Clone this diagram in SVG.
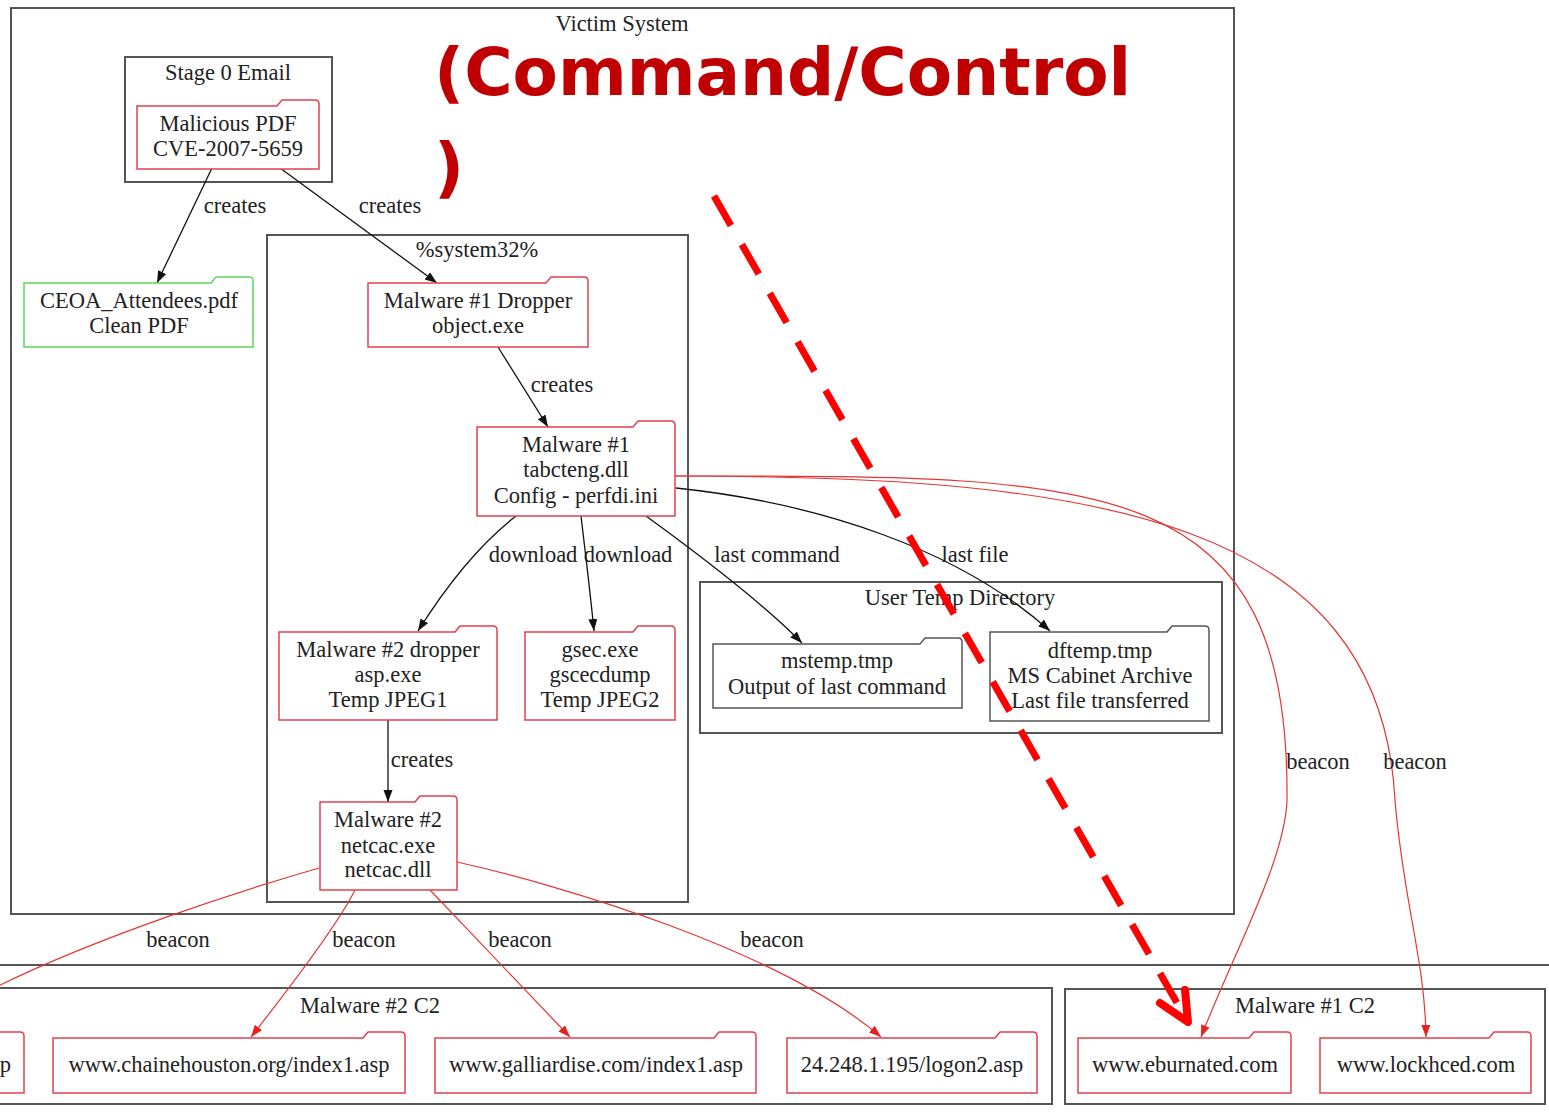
<svg xmlns="http://www.w3.org/2000/svg" width="1549" height="1112" viewBox="0 0 1549 1112">
<style>
text{font-family:"Liberation Serif","Times New Roman",serif;font-size:22.5px;fill:#222;text-anchor:middle}
.cl{fill:none;stroke:#555;stroke-width:2}
.fr{fill:#fff;stroke:#e2404c;stroke-width:1.5}
.fg{fill:#fff;stroke:#5cd65c;stroke-width:1.5}
.fk{fill:#fff;stroke:#555;stroke-width:1.5}
.eb{fill:none;stroke:#111;stroke-width:1.3}
.er{fill:none;stroke:#e53535;stroke-width:1.2}
.title{font-family:"DejaVu Sans",Verdana,sans-serif;font-weight:bold;font-size:66px;fill:#C00000;text-anchor:start}
</style>
<defs>
<marker id="ab" markerUnits="userSpaceOnUse" markerWidth="14" markerHeight="10" refX="12" refY="4.5" orient="auto"><path d="M0,0 L12,4.5 L0,9 z" fill="#111"/></marker>
<marker id="ar" markerUnits="userSpaceOnUse" markerWidth="14" markerHeight="10" refX="12" refY="4.5" orient="auto"><path d="M0,0 L12,4.5 L0,9 z" fill="#e82020"/></marker>
</defs>
<rect width="1549" height="1112" fill="#fff"/>

<g id="clusters">
<g id="victim"><rect class="cl" x="11" y="8" width="1223" height="906"/><text x="622" y="31">Victim System</text></g>
<g id="stage0"><rect class="cl" x="125" y="57" width="207" height="125"/><text x="228" y="80">Stage 0 Email</text></g>
<g id="system32"><rect class="cl" x="267" y="235" width="421" height="667"/><text x="477" y="257">%system32%</text></g>
<g id="usertemp"><rect class="cl" x="700" y="582" width="522" height="151"/><text x="960" y="605">User Temp Directory</text></g>
<g id="outer"><rect class="cl" x="-10" y="965" width="1570" height="160"/></g>
<g id="m2c2"><rect class="cl" x="-300" y="988" width="1352" height="116"/><text x="370" y="1013">Malware #2 C2</text></g>
<g id="m1c2"><rect class="cl" x="1065" y="989" width="480" height="115"/><text x="1305" y="1013">Malware #1 C2</text></g>
</g>

<g id="connectors">
<path class="eb" d="M212,168 L157,283" marker-end="url(#ab)"/>
<path class="eb" d="M280,168 L437,283" marker-end="url(#ab)"/>
<path class="eb" d="M498,347 L548,427" marker-end="url(#ab)"/>
<path class="eb" d="M516,516 C485,540 450,580 418,631" marker-end="url(#ab)"/>
<path class="eb" d="M581,516 C585,550 590,590 594,631" marker-end="url(#ab)"/>
<path class="eb" d="M646,516 C690,548 760,600 802,643" marker-end="url(#ab)"/>
<path class="eb" d="M676,488 C820,503 960,550 1050,631" marker-end="url(#ab)"/>
<path class="eb" d="M388,720 L388,802" marker-end="url(#ab)"/>
<path class="er" d="M674,476 C1100,476 1290,470 1287,800 C1285,860 1235,950 1201,1037" marker-end="url(#ar)"/>
<path class="er" d="M674,476 C1100,476 1380,520 1395,800 C1403,900 1425,960 1426,1037" marker-end="url(#ar)"/>
<path class="er" d="M319,868 C250,888 100,935 -10,990"/>
<path class="er" d="M355,890 Q335,930 251,1037" marker-end="url(#ar)"/>
<path class="er" d="M430,890 L570,1037" marker-end="url(#ar)"/>
<path class="er" d="M457,862 C560,885 780,950 881,1037" marker-end="url(#ar)"/>
<text x="235" y="213">creates</text>
<text x="390" y="213">creates</text>
<text x="562" y="392">creates</text>
<text x="533" y="562">download</text>
<text x="628" y="562">download</text>
<text x="777" y="562">last command</text>
<text x="975" y="562">last file</text>
<text x="422" y="767">creates</text>
<text x="178" y="947">beacon</text>
<text x="364" y="947">beacon</text>
<text x="520" y="947">beacon</text>
<text x="772" y="947">beacon</text>
<text x="1318" y="769">beacon</text>
<text x="1415" y="769">beacon</text>
</g>

<g id="n-malpdf"><path class="fr" d="M137,106 L277,106 L282,100 L315,100 Q319,100 319,104 L319,169 L137,169 Z"/><text x="228" y="131">Malicious PDF</text><text x="228" y="156">CVE-2007-5659</text></g>
<g id="n-ceoa"><path class="fg" d="M24,283 L211,283 L216,277 L249,277 Q253,277 253,281 L253,347 L24,347 Z"/><text x="139" y="308">CEOA_Attendees.pdf</text><text x="139" y="333">Clean PDF</text></g>
<g id="n-dropper"><path class="fr" d="M368,283 L546,283 L551,277 L584,277 Q588,277 588,281 L588,347 L368,347 Z"/><text x="478" y="308">Malware #1 Dropper</text><text x="478" y="333">object.exe</text></g>
<g id="n-tabcteng"><path class="fr" d="M477,427 L633,427 L638,421 L671,421 Q675,421 675,425 L675,516 L477,516 Z"/><text x="576" y="452">Malware #1</text><text x="576" y="477">tabcteng.dll</text><text x="576" y="503">Config - perfdi.ini</text></g>
<g id="n-m2dropper"><path class="fr" d="M279,632 L455,632 L460,626 L493,626 Q497,626 497,630 L497,720 L279,720 Z"/><text x="388" y="657">Malware #2 dropper</text><text x="388" y="682">asp.exe</text><text x="388" y="707">Temp JPEG1</text></g>
<g id="n-gsec"><path class="fr" d="M525,632 L633,632 L638,626 L671,626 Q675,626 675,630 L675,720 L525,720 Z"/><text x="600" y="657">gsec.exe</text><text x="600" y="682">gscecdump</text><text x="600" y="707">Temp JPEG2</text></g>
<g id="n-netcac"><path class="fr" d="M320,802 L415,802 L420,796 L453,796 Q457,796 457,800 L457,890 L320,890 Z"/><text x="388" y="827">Malware #2</text><text x="388" y="853">netcac.exe</text><text x="388" y="877">netcac.dll</text></g>
<g id="n-mstemp"><path class="fk" d="M713,644 L920,644 L925,638 L958,638 Q962,638 962,642 L962,708 L713,708 Z"/><text x="837" y="668">mstemp.tmp</text><text x="837" y="694">Output of last command</text></g>
<g id="n-dftemp"><path class="fk" d="M990,632 L1167,632 L1172,626 L1205,626 Q1209,626 1209,630 L1209,721 L990,721 Z"/><text x="1100" y="658">dftemp.tmp</text><text x="1100" y="683">MS Cabinet Archive</text><text x="1100" y="708">Last file transferred</text></g>
<g id="n-partial"><path class="fr" d="M-200,1038 L-18,1038 L-13,1032 L20,1032 Q24,1032 24,1036 L24,1093 L-200,1093 Z"/><text x="11" y="1072" style="text-anchor:end">p</text></g>
<g id="n-chaine"><path class="fr" d="M53,1038 L363,1038 L368,1032 L401,1032 Q405,1032 405,1036 L405,1093 L53,1093 Z"/><text x="229" y="1072">www.chainehouston.org/index1.asp</text></g>
<g id="n-galli"><path class="fr" d="M435,1038 L714,1038 L719,1032 L752,1032 Q756,1032 756,1036 L756,1093 L435,1093 Z"/><text x="596" y="1072">www.galliardise.com/index1.asp</text></g>
<g id="n-ip"><path class="fr" d="M787,1038 L995,1038 L1000,1032 L1033,1032 Q1037,1032 1037,1036 L1037,1093 L787,1093 Z"/><text x="912" y="1072">24.248.1.195/logon2.asp</text></g>
<g id="n-eburn"><path class="fr" d="M1078,1038 L1249,1038 L1254,1032 L1287,1032 Q1291,1032 1291,1036 L1291,1093 L1078,1093 Z"/><text x="1185" y="1072">www.eburnated.com</text></g>
<g id="n-lock"><path class="fr" d="M1320,1038 L1489,1038 L1494,1032 L1527,1032 Q1531,1032 1531,1036 L1531,1093 L1320,1093 Z"/><text x="1426" y="1072">www.lockhced.com</text></g>

<g id="annotation">
<text class="title" x="434" y="95">(Command/Control</text>
<text class="title" x="434" y="190">)</text>
<path d="M714,196 L1188,1022" fill="none" stroke="#ff0000" stroke-width="7" stroke-dasharray="34 22"/>
<polyline points="1160,1003 1188,1022 1185,990" fill="none" stroke="#ff0000" stroke-width="8" stroke-linecap="round" stroke-linejoin="round"/>
</g>
</svg>
